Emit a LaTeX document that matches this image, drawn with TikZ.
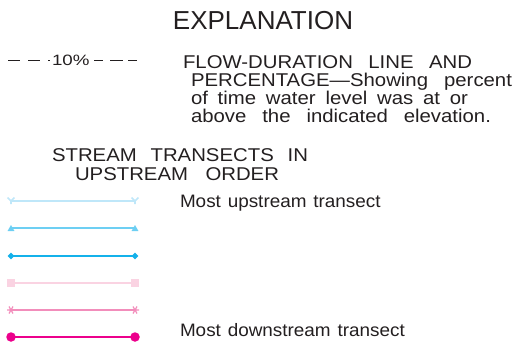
\documentclass[tikz,border=0pt]{standalone}
\usepackage{fontspec}
\setmainfont{Liberation Sans}
\newfontfamily\blockfont[FakeStretch=1.1]{Liberation Sans}
\newfontfamily\legfont[FakeStretch=1.05,WordSpace=1.3]{Liberation Sans}
\newfontfamily\pctfont[FakeStretch=1.25]{Liberation Sans}
\usetikzlibrary{shapes.geometric}
\definecolor{ink}{HTML}{231F20}
\definecolor{cA}{HTML}{BFE7F9}
\definecolor{cB}{HTML}{6DCFF3}
\definecolor{cC}{HTML}{14B1EA}
\definecolor{cD}{HTML}{FAD3E2}
\definecolor{cE}{HTML}{F28DBB}
\definecolor{cF}{HTML}{EC008C}
\newcommand{\spread}[2]{\makebox[#1pt][s]{#2}}
\tikzset{
  txt/.style={inner sep=0pt, outer sep=0pt, text=ink, anchor=base west, font=\legfont\fontsize{18}{20}\selectfont},
  blk/.style={txt, font=\blockfont\fontsize{18.5}{20}\selectfont},
  leg/.style={line width=2pt},
  mtri/.style={regular polygon, regular polygon sides=3, minimum size=8pt, inner sep=0pt, fill=cB},
  mdia/.style={diamond, minimum size=7pt, inner sep=0pt, fill=cC},
  msq/.style={rectangle, minimum size=8pt, inner sep=0pt, fill=cD},
  mcir/.style={circle, minimum size=9.5pt, inner sep=0pt, fill=cF},
}
\newcommand{\ymark}[1]{\draw[cA, line width=1.6pt] (#1) -- ++(0,3) (#1) -- ++(-3.5,-3.5) (#1) -- ++(3.5,-3.5);}
\newcommand{\astmark}[1]{\draw[cE, line width=1.2pt] (#1) ++(-4,0) -- ++(8,0) (#1) ++(60:4) -- ++(240:8) (#1) ++(120:4) -- ++(300:8);}
\begin{document}
\begin{tikzpicture}[x=1pt,y=-1pt]
\useasboundingbox (0,0) rectangle (528,348);
% title
\node[inner sep=0pt, anchor=base, text=ink, font=\fontsize{26}{30}\selectfont] (title) at (263,29) {EXPLANATION};
% flow-duration sample
\node[txt, font=\pctfont\fontsize{15}{16}\selectfont] (pct) at (52,65) {10\%};
\coordinate (d1) at (8,60); \coordinate (d2) at (50,60);
\coordinate (d3) at (94,60); \coordinate (d4) at (137,60);
\draw[ink, line width=1pt, dash pattern=on 12pt off 8pt on 12pt off 8pt on 2pt off 20pt] (d1) -- (d2);
\draw[ink, line width=1pt, dash pattern=on 9pt off 7pt on 13pt off 5pt] (d3) -- (d4);
\node[blk] (f1) at (183,68) {\spread{289}{FLOW-DURATION LINE AND}};
\node[blk] (f2) at (191,86) {\spread{321}{PERCENTAGE—Showing percent}};
\node[blk] (f3) at (191,104) {\spread{277}{of time water level was at or}};
\node[blk] (f4) at (191,122) {\spread{300}{above the indicated elevation.}};
% heading
\node[blk] (s1) at (52,161) {\spread{256}{STREAM TRANSECTS IN}};
\node[blk] (s2) at (75,180) {\spread{204}{UPSTREAM ORDER}};
% legend lines
\foreach \i/\y in {1/201,2/228,3/256,4/283,5/310,6/337}{
  \coordinate (a\i) at (11,\y); \coordinate (b\i) at (135,\y);
}
\draw[leg, cA] (a1) -- (b1);
\ymark{a1} \ymark{b1}
\draw[leg, cB] (a2) -- (b2);
\node[mtri] (ta) at ([yshift=-1pt]a2) {}; \node[mtri] (tb) at ([yshift=-1pt]b2) {};
\draw[leg, cC] (a3) -- (b3);
\node[mdia] (da) at (a3) {}; \node[mdia] (db) at (b3) {};
\draw[leg, cD] (a4) -- (b4);
\node[msq] (qa) at (a4) {}; \node[msq] (qb) at (b4) {};
\draw[leg, cE] (a5) -- (b5);
\astmark{a5} \astmark{b5}
\draw[leg, cF] (a6) -- (b6);
\node[mcir] (ca) at (a6) {}; \node[mcir] (cb) at (b6) {};
\node[txt] (up) at (180,207) {Most upstream transect};
\node[txt] (down) at (180,336) {Most downstream transect};
\end{tikzpicture}
\end{document}
